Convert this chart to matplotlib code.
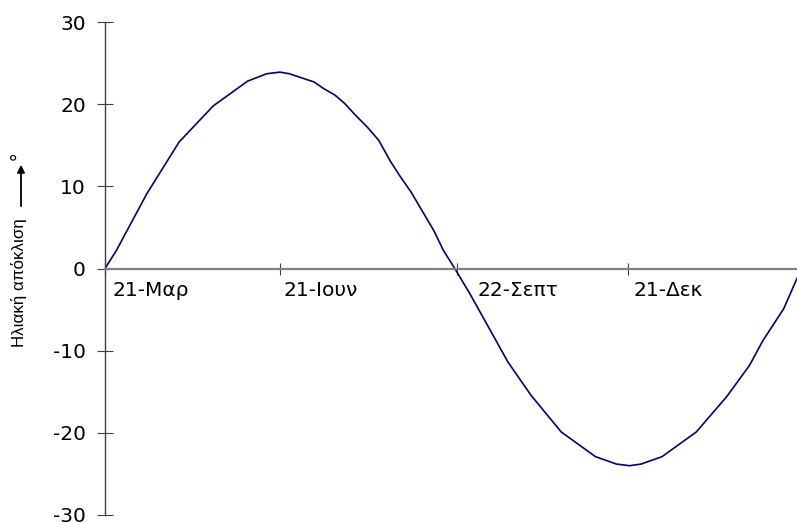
import matplotlib
matplotlib.use("Agg")
import matplotlib.pyplot as plt

# Days after 21 March and solar declination (degrees)
days = [0, 6, 22, 39, 57, 75, 85, 92, 97, 110, 115, 121, 126, 132, 138, 144,
        150, 155, 161, 173, 178, 184, 192, 212, 224, 240, 258, 269, 276, 282,
        293, 311, 327, 339, 346, 357, 364]
declination = [0, 2.2, 9.1, 15.4, 19.8, 22.8, 23.7, 23.9, 23.7, 22.7, 21.9,
               21.1, 20.1, 18.6, 17.2, 15.6, 13.1, 11.3, 9.3, 4.6, 2.2, 0,
               -3.1, -11.4, -15.4, -19.9, -22.9, -23.8, -24.0, -23.8, -22.9,
               -19.9, -15.6, -11.8, -8.8, -4.9, -1.2]

tick_days = [0, 92, 185, 275]
tick_labels = ["21-Μαρ", "21-Ιουν", "22-Σεπτ", "21-Δεκ"]
label_days = [3.7, 94, 196, 278]
yticks = [-30, -20, -10, 0, 10, 20, 30]

W, H = 797, 522
fig = plt.figure(figsize=(W / 100, H / 100), dpi=100)
ax = fig.add_axes([105 / W, 1 - 515 / H, 1 - 105 / W, (515 - 22) / H])
wide = ["DejaVu Sans"]
fam = ["Liberation Sans", "DejaVu Sans"]

ax.plot(days, declination, color="#000080", lw=1.2)
ax.set_xlim(0, 364)
ax.set_ylim(-30, 30)

ax.spines["top"].set_visible(False)
ax.spines["right"].set_visible(False)
ax.spines["bottom"].set_position(("data", 0))
ax.spines["bottom"].set_color("#808080")
ax.spines["bottom"].set_linewidth(1.6)
ax.spines["left"].set_color("#404040")
ax.spines["left"].set_linewidth(1.0)

ax.set_yticks(yticks)
ax.set_yticklabels([str(v) for v in yticks], family=wide, fontsize=14.5)
ax.tick_params(axis="y", direction="inout", length=11.5, width=0.8,
               color="#404040", pad=8)
ax.set_xticks(tick_days)
ax.set_xticklabels([])
ax.tick_params(axis="x", direction="inout", length=8.5, width=0.8,
               color="#404040")
for d, lab in zip(label_days, tick_labels):
    ax.text(d, -2.7, lab, ha="left", va="center", fontsize=14.5, family=wide)

# y-axis title with arrow and degree sign
fig.text(19 / W, 1 - 283 / H, "Ηλιακή απόκλιση", rotation=90, ha="center",
         va="center", fontsize=12.2, family=fam)
fig.add_artist(matplotlib.patches.FancyArrowPatch(
    (21 / W, 1 - 209 / H), (21 / W, 1 - 162 / H), transform=fig.transFigure,
    arrowstyle="-|>", mutation_scale=11, lw=1.3, color="black"))
fig.text(19 / W, 1 - 156 / H, "°", rotation=90, ha="center", va="center",
         fontsize=15, family=fam)

fig.savefig("out.png", dpi=100)
